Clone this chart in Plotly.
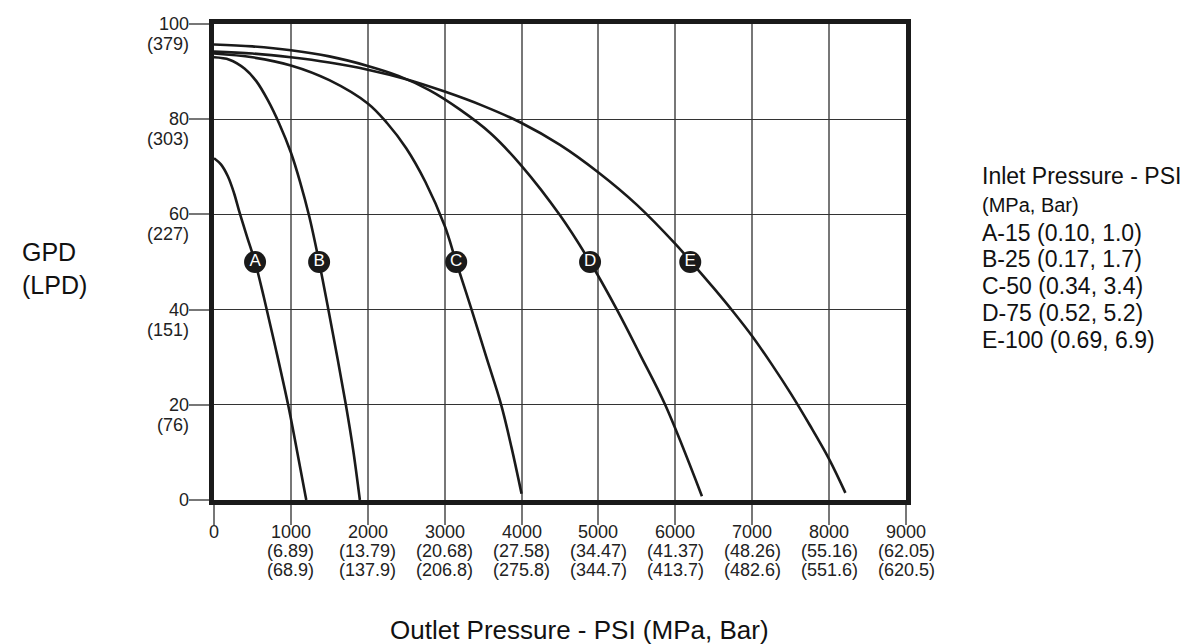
"""
Outlet pressure vs. product flow chart, one curve per inlet pressure.
"""

import plotly.graph_objects as go

# curve data (outlet PSI -> GPD)
a_psi = [0, 90, 180, 260, 334, 430, 534, 650, 800, 964, 1080, 1200]
a_gpd = [71.8, 70.5, 68.0, 64.5, 60.3, 55.3, 50.0, 42.5, 32.0, 20.0, 10.3, 0.0]

b_psi = [0, 200, 400, 550, 700, 850, 1000, 1120, 1240, 1367, 1540, 1715, 1810, 1897]
b_gpd = [93.0, 92.5, 90.6, 88.0, 84.0, 79.0, 73.0, 66.8, 59.5, 50.0, 35.5, 20.0, 10.5, 0.0]

c_psi = [0, 500, 1000, 1500, 2000, 2250, 2500, 2750, 3000, 3150, 3350, 3540, 3735, 3870, 4000]
c_gpd = [93.8, 93.0, 91.3, 88.2, 83.3, 79.2, 73.9, 66.8, 57.6, 50.0, 40.0, 30.1, 20.0, 11.0, 1.3]

d_psi = [0, 500, 1000, 1500, 2000, 2400, 2800, 3200, 3600, 4000, 4500, 4891, 5240, 5543, 5868, 6346]
d_gpd = [95.7, 95.3, 94.5, 93.2, 91.2, 89.1, 86.1, 82.0, 77.0, 70.2, 59.8, 50.0, 40.0, 30.5, 20.0, 0.8]

e_psi = [0, 500, 1000, 1500, 2000, 2500, 3000, 3500, 4000, 4500, 5000, 5500, 6000, 6250,
         6500, 6750, 7000, 7250, 7500, 7750, 8000, 8212]
e_gpd = [94.2, 93.8, 93.0, 91.9, 90.4, 88.4, 85.8, 82.8, 79.2, 74.6, 68.8, 62.0, 53.8, 49.2,
         44.5, 39.6, 34.4, 28.6, 22.4, 15.7, 8.6, 1.5]

# curve labels (circle badges)
badge_names = ["A", "B", "C", "D", "E"]
badge_psi = [534, 1367, 3150, 4891, 6194]
badge_gpd = [50, 50, 50, 50, 50]

# tick labels
x_ticks = [0, 1000, 2000, 3000, 4000, 5000, 6000, 7000, 8000, 9000]
x_mpa = ["", "(6.89)", "(13.79)", "(20.68)", "(27.58)", "(34.47)", "(41.37)", "(48.26)", "(55.16)", "(62.05)"]
x_bar = ["", "(68.9)", "(137.9)", "(206.8)", "(275.8)", "(344.7)", "(413.7)", "(482.6)", "(551.6)", "(620.5)"]
y_ticks = [0, 20, 40, 60, 80, 100]
y_lpd = ["", "(76)", "(151)", "(227)", "(303)", "(379)"]

legend_lines = ["Inlet Pressure - PSI", "(MPa, Bar)", "A-15 (0.10, 1.0)", "B-25 (0.17, 1.7)",
                "C-50 (0.34, 3.4)", "D-75 (0.52, 5.2)", "E-100 (0.69, 6.9)"]

FONT = "Arial, Liberation Sans, sans-serif"

fig = go.Figure()
for xs, ys in [(a_psi, a_gpd), (b_psi, b_gpd), (c_psi, c_gpd), (d_psi, d_gpd), (e_psi, e_gpd)]:
    fig.add_trace(go.Scatter(x=xs, y=ys, mode='lines',
                             line=dict(color='#1a1a1a', width=2.6, shape='spline', smoothing=1.0),
                             hoverinfo='skip'))

fig.add_trace(go.Scatter(x=badge_psi, y=badge_gpd, mode='markers+text', text=badge_names,
                         textposition='middle center',
                         textfont=dict(family=FONT, size=17, color='white'),
                         marker=dict(size=22, color='#1a1a1a'), hoverinfo='skip'))

annotations = []
# x tick labels, three rows
for v, m, b in zip(x_ticks, x_mpa, x_bar):
    for txt, dy in [(str(v), -32), (m, -51), (b, -70)]:
        if txt:
            annotations.append(dict(x=v, xref='x', y=0, yref='paper', yanchor='middle',
                                    yshift=dy, text=txt, showarrow=False,
                                    font=dict(family=FONT, size=18, color='#222')))
# y tick labels, two rows
for v, l in zip(y_ticks, y_lpd):
    for txt, dy in [(str(v), 0), (l, -20)]:
        if txt:
            annotations.append(dict(x=0, xref='paper', xanchor='right', xshift=-23,
                                    y=v, yref='y', yanchor='middle', yshift=dy,
                                    text=txt, showarrow=False,
                                    font=dict(family=FONT, size=18, color='#222')))

# legend block on the right
legend_y = [168, 197, 225, 251, 278, 305, 332]
for i, (txt, py) in enumerate(zip(legend_lines, legend_y)):
    annotations.append(dict(x=(972 - 206) / 692, xref='paper', xanchor='left',
                            y=1 - (py - 16) / 476, yref='paper', yanchor='middle',
                            text=txt, showarrow=False,
                            font=dict(family=FONT, size=20 if i == 1 else 23, color='#111')))

# axis titles
annotations.append(dict(x=(12 - 206) / 692, xref='paper', xanchor='left',
                        y=1 - (260 - 16) / 476, yref='paper', yanchor='middle',
                        text="GPD<br>(LPD)", align='left', showarrow=False,
                        font=dict(family=FONT, size=25, color='#111')))
annotations.append(dict(x=(571 - 206) / 692, xref='paper', xanchor='center',
                        y=1 - (622 - 16) / 476, yref='paper', yanchor='middle',
                        text="Outlet Pressure - PSI (MPa, Bar)", showarrow=False,
                        font=dict(family=FONT, size=26, color='#111')))

fig.update_layout(
    width=1196, height=644,
    margin=dict(l=206, r=298, t=16, b=152),
    plot_bgcolor='white', paper_bgcolor='white',
    showlegend=False,
    annotations=annotations,
    xaxis=dict(range=[0, 9000], tickvals=x_ticks, showticklabels=False,
               ticks='outside', ticklen=20, tickwidth=1.5, tickcolor='#777',
               showgrid=True, gridcolor='#777', gridwidth=1.5, zeroline=False,
               showline=True, mirror=True, linewidth=4.5, linecolor='#1a1a1a'),
    yaxis=dict(range=[0, 100], tickvals=y_ticks, showticklabels=False,
               ticks='outside', ticklen=20, tickwidth=1.5, tickcolor='#777',
               showgrid=True, gridcolor='#333', gridwidth=1.3, zeroline=False,
               showline=True, mirror=True, linewidth=4.5, linecolor='#1a1a1a'),
)

fig.write_html("out.html")
